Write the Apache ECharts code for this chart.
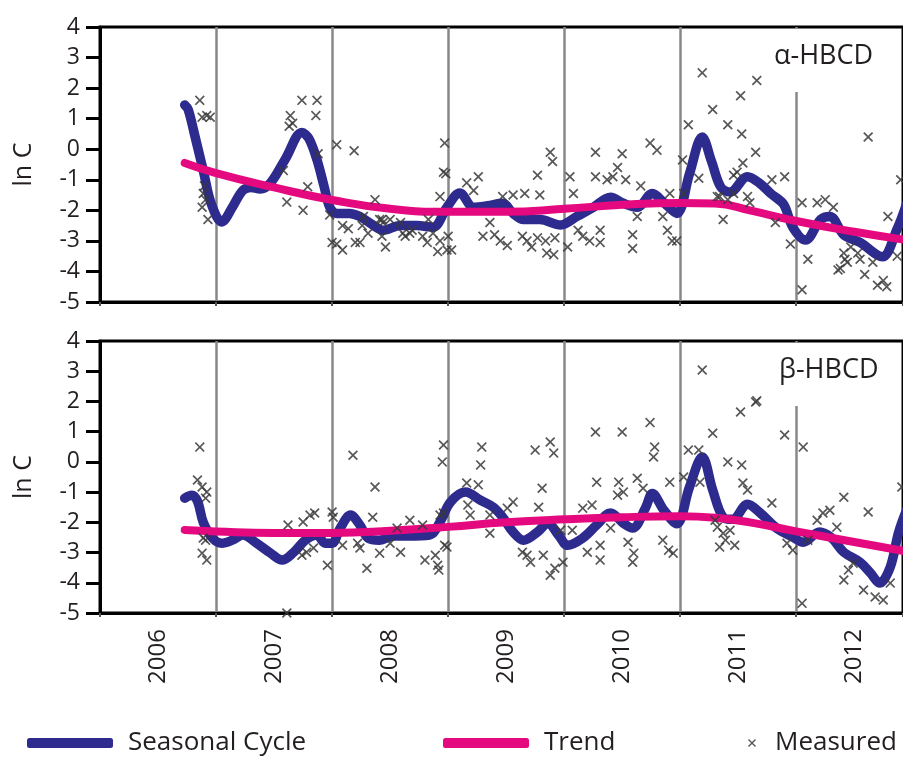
<!DOCTYPE html>
<html>
<head>
<meta charset="utf-8">
<script src="https://cdn.jsdelivr.net/npm/echarts@6/dist/echarts.min.js"></script>
<style>
html,body{margin:0;padding:0;background:#fff;}
#chart{width:903px;height:758px;}
</style>
</head>
<body>
<div id="chart"></div>
<script>
// ---------- DATA ----------
const yearLabels = ['2006','2007','2008','2009','2010','2011','2012'];
const panelNames = ['α-HBCD', 'β-HBCD'];

const alphaSeasonal = [
[2006.73,1.45],[2006.76,1.3],[2006.82,0.4],[2006.89,-0.7],[2006.96,-1.8],[2007.05,-2.38],[2007.14,-1.9],
[2007.23,-1.35],[2007.30,-1.25],[2007.38,-1.3],[2007.47,-1.1],[2007.6,-0.3],[2007.74,0.55],[2007.8,0.35],
[2007.87,-0.35],[2007.93,-1.2],[2007.98,-1.9],[2008.04,-2.1],[2008.15,-2.1],[2008.24,-2.2],[2008.34,-2.45],
[2008.44,-2.65],[2008.59,-2.5],[2008.73,-2.5],[2008.87,-2.55],[2008.99,-1.9],[2009.1,-1.43],[2009.22,-1.9],
[2009.34,-1.85],[2009.47,-1.77],[2009.56,-2.1],[2009.65,-2.3],[2009.79,-2.3],[2009.97,-2.48],[2010.11,-2.2],
[2010.25,-1.9],[2010.4,-1.57],[2010.51,-1.77],[2010.63,-1.9],[2010.76,-1.45],[2010.86,-1.75],[2010.97,-2.1],
[2011.08,-0.8],[2011.19,0.4],[2011.27,-0.4],[2011.35,-1.24],[2011.43,-1.4],[2011.58,-0.9],[2011.68,-1.1],
[2011.78,-1.45],[2011.89,-1.8],[2011.97,-2.55],[2012.08,-2.97],[2012.21,-2.3],[2012.29,-2.2],[2012.41,-2.8],
[2012.55,-3.05],[2012.74,-3.52],[2012.87,-2.6],[2012.95,-1.8]
];
const alphaTrend = [
[2006.73,-0.45],[2007.0,-0.78],[2007.5,-1.25],[2008.0,-1.66],[2008.5,-1.95],[2009.0,-2.05],[2009.5,-2.05],
[2010.0,-1.95],[2010.5,-1.82],[2011.0,-1.76],[2011.3,-1.78],[2011.6,-2.0],[2012.0,-2.35],[2012.5,-2.7],[2013.0,-3.0]
];
const alphaMeasured = [
[2006.86,1.6],[2006.92,1.1],[2006.88,1.05],[2006.95,1.05],[2006.89,-1.45],[2006.91,-1.65],[2006.88,-1.9],[2006.93,-2.3],[2006.90,-1.2],
[2007.64,1.1],[2007.66,0.85],[2007.63,0.75],[2007.74,1.6],[2007.87,1.6],[2007.86,1.1],[2007.61,-1.73],[2007.75,-2.0],[2007.79,-1.23],
[2007.58,-0.7],[2007.88,-0.15],[2008.04,0.15],[2008.19,-0.05],[2008.0,-3.05],[2008.04,-3.1],[2008.09,-3.3],[2008.09,-2.5],[2008.14,-2.6],
[2008.2,-3.05],[2008.24,-3.05],[2008.26,-2.5],[2008.31,-2.75],[2008.27,-2.2],[2008.41,-2.3],[2008.44,-2.4],[2008.43,-2.85],[2008.46,-3.2],
[2008.37,-1.65],[2008.5,-2.3],[2007.98,-2.15],[2008.59,-2.4],[2008.63,-2.85],[2008.67,-2.75],[2008.78,-2.85],[2008.82,-3.05],[2008.87,-2.75],
[2008.91,-3.35],[2008.93,-3.0],[2008.97,0.2],[2008.96,-0.75],[2008.98,-0.8],[2008.93,-1.55],[2009.0,-2.85],[2009.03,-3.3],[2008.99,-3.3],
[2009.16,-1.1],[2009.26,-0.9],[2009.22,-1.35],[2009.3,-2.85],[2009.36,-2.4],[2009.47,-1.55],[2009.56,-1.5],[2009.66,-1.45],[2009.77,-0.85],
[2009.79,-1.5],[2009.64,-2.85],[2009.68,-3.0],[2009.72,-3.2],[2009.77,-2.9],[2009.84,-3.0],[2009.85,-3.4],[2009.91,-3.45],[2009.92,-2.9],
[2009.88,-0.1],[2009.9,-0.4],[2010.05,-0.9],[2010.08,-1.45],[2010.03,-3.2],[2010.12,-2.65],[2010.16,-2.85],[2010.22,-3.0],[2010.27,-0.1],
[2010.27,-0.9],[2010.31,-2.65],[2010.31,-3.05],[2010.37,-1.0],[2010.42,-0.9],[2010.46,-0.6],[2010.5,-0.15],[2010.53,-1.0],[2010.59,-2.8],
[2010.59,-3.25],[2010.63,-2.2],[2010.66,-1.2],[2010.74,0.2],[2010.8,-0.03],[2011.07,0.8],[2011.02,-0.35],[2011.19,2.5],[2011.28,1.3],
[2011.52,1.75],[2011.66,2.25],[2011.41,0.8],[2011.53,0.5],[2011.65,-0.1],[2011.54,-0.45],[2011.49,-0.75],[2011.37,-2.3],[2011.32,-1.55],
[2011.16,-0.95],[2011.79,-1.0],[2011.9,-0.9],[2011.82,-2.4],[2011.95,-3.1],[2012.05,-1.75],[2012.1,-3.6],[2012.05,-4.6],[2012.18,-1.75],
[2012.25,-1.65],[2012.32,-1.9],[2012.36,-3.95],[2012.42,-3.6],[2012.47,-3.2],[2012.53,-3.4],[2012.59,-4.1],[2012.62,0.4],[2012.66,-3.7],
[2012.7,-4.45],[2012.75,-4.3],[2012.78,-4.5],[2012.79,-2.2],[2012.87,-3.5],[2012.9,-1.0],[2010.89,-2.65],[2010.93,-3.0],[2010.97,-3.0],
[2010.85,-2.2],[2010.91,-1.45],[2011.03,-1.45],[2011.34,-1.55],[2011.41,-1.65],[2011.46,-1.45],[2011.58,-1.55],[2011.6,-1.75],[2011.46,-0.85],
[2012.41,-3.4],[2012.55,-3.6],[2012.44,-3.7],[2012.38,-3.9],[2008.43,-2.3],[2008.61,-2.75],[2008.69,-2.65],[2008.83,-2.3],
[2009.45,-3.0],[2009.51,-3.15],[2009.4,-2.8]
];

const betaSeasonal = [
[2006.73,-1.2],[2006.79,-1.1],[2006.84,-1.3],[2006.89,-2.0],[2006.97,-2.52],[2007.05,-2.69],[2007.14,-2.59],[2007.23,-2.42],
[2007.35,-2.69],[2007.47,-3.02],[2007.57,-3.25],[2007.67,-2.99],[2007.77,-2.59],[2007.87,-2.42],[2007.94,-2.69],[2008.0,-2.69],
[2008.07,-2.19],[2008.16,-1.76],[2008.24,-2.09],[2008.31,-2.52],[2008.41,-2.59],[2008.53,-2.45],[2008.66,-2.45],[2008.84,-2.42],
[2008.93,-1.99],[2009.02,-1.33],[2009.15,-1.0],[2009.28,-1.27],[2009.39,-1.5],[2009.47,-1.83],[2009.56,-2.32],[2009.65,-2.59],
[2009.77,-2.32],[2009.86,-2.03],[2009.95,-2.42],[2010.03,-2.76],[2010.16,-2.52],[2010.28,-2.09],[2010.40,-1.69],[2010.51,-2.03],
[2010.59,-2.19],[2010.70,-1.53],[2010.76,-1.05],[2010.86,-1.6],[2010.97,-2.05],[2011.08,-0.83],[2011.19,0.16],[2011.28,-0.93],
[2011.37,-1.83],[2011.45,-1.9],[2011.58,-1.4],[2011.69,-1.69],[2011.83,-2.19],[2011.97,-2.49],[2012.06,-2.66],[2012.2,-2.32],
[2012.3,-2.5],[2012.41,-2.99],[2012.55,-3.32],[2012.64,-3.68],[2012.72,-4.01],[2012.81,-3.48],[2012.88,-2.36],[2012.95,-1.6]
];
const betaTrend = [
[2006.73,-2.25],[2007.0,-2.3],[2007.5,-2.35],[2008.0,-2.35],[2008.5,-2.28],[2009.0,-2.15],[2009.5,-2.0],[2010.0,-1.9],
[2010.5,-1.83],[2011.0,-1.8],[2011.3,-1.85],[2011.6,-2.0],[2012.0,-2.3],[2012.5,-2.65],[2013.0,-3.0]
];
const betaMeasured = [
[2006.86,0.49],[2006.84,-0.6],[2006.88,-0.83],[2006.92,-1.0],[2006.91,-1.2],[2006.89,-2.52],[2006.88,-3.02],[2006.92,-3.25],[2006.91,-2.59],
[2007.62,-2.09],[2007.75,-1.99],[2007.81,-1.76],[2007.85,-1.69],[2007.84,-2.85],[2007.78,-2.99],[2007.74,-3.09],[2007.61,-5.0],
[2008.0,-1.66],[2008.01,-1.83],[2007.96,-3.42],[2008.09,-2.76],[2008.18,0.22],[2008.22,-2.69],[2008.24,-2.85],[2008.3,-3.52],
[2008.35,-1.83],[2008.37,-0.83],[2008.41,-3.02],[2008.5,-2.69],[2008.56,-2.19],[2008.59,-2.99],[2008.67,-1.93],[2008.78,-2.09],
[2008.8,-3.25],[2008.89,-3.09],[2008.91,-3.42],[2008.92,-3.58],[2008.96,0.56],[2008.95,0.0],[2008.96,-1.69],[2008.99,-2.82],
[2008.93,-1.76],[2008.97,-2.76],[2009.16,-0.7],[2009.17,-1.43],[2009.19,-1.76],[2009.26,-0.76],[2009.28,-0.1],[2009.29,0.49],
[2009.36,-2.36],[2009.36,-1.76],[2009.51,-1.53],[2009.56,-1.33],[2009.64,-2.99],[2009.68,-3.09],[2009.71,-3.32],[2009.75,0.39],
[2009.78,-1.5],[2009.81,-0.87],[2009.82,-3.09],[2009.88,0.66],[2009.91,0.29],[2009.88,-3.75],[2009.92,-3.52],[2009.99,-3.32],
[2010.07,-2.26],[2010.16,-1.53],[2010.2,-2.99],[2010.24,-1.43],[2010.27,0.99],[2010.28,-0.67],[2010.31,-2.76],[2010.31,-3.25],
[2010.4,-2.19],[2010.46,-1.1],[2010.47,-0.67],[2010.5,0.99],[2010.51,-1.0],[2010.55,-2.66],[2010.59,-3.32],[2010.6,-3.02],
[2010.63,-0.54],[2010.68,-0.87],[2010.74,1.3],[2010.78,0.49],[2010.77,0.16],[2010.85,-2.59],[2010.9,-2.92],[2010.94,-3.02],
[2010.91,-0.67],[2011.03,-0.5],[2011.07,0.39],[2011.19,3.04],[2011.16,0.39],[2011.17,-0.67],[2011.28,0.95],[2011.41,0.0],
[2011.52,1.65],[2011.53,-0.1],[2011.65,1.98],[2011.66,2.02],[2011.32,-2.16],[2011.37,-2.36],[2011.34,-2.82],[2011.54,-0.7],
[2011.58,-0.93],[2011.79,-1.36],[2011.9,0.89],[2011.92,-2.69],[2011.97,-2.92],[2012.05,-4.68],[2012.06,0.49],[2012.1,-2.59],
[2012.18,-1.93],[2012.23,-1.69],[2012.29,-1.6],[2012.35,-2.16],[2012.41,-1.17],[2012.41,-3.91],[2012.45,-3.58],[2012.49,-3.35],
[2012.58,-4.24],[2012.62,-1.66],[2012.68,-4.47],[2012.75,-4.57],[2012.81,-4.01],[2012.91,-0.83],[2011.39,-2.59],[2011.43,-2.26],
[2011.47,-2.76],[2011.3,-1.93],[2009.97,-2.26]
];

// ---------- STYLE ----------
const FONT = '"Open Sans", "Liberation Sans", Arial, sans-serif';
const NAVY = '#2e2b8e';
const MAGENTA = '#e5097f';
const MARK = '#3a3a3a';
const TEXT = '#231f20';
const XPATH = 'path://M0,1.2L1.2,0L5,3.8L8.8,0L10,1.2L6.2,5L10,8.8L8.8,10L5,6.2L1.2,10L0,8.8L3.8,5Z';
const X_MIN = 2006, X_MAX = 2012.92;

const grids = [
  {left: 100, top: 27, right: 0, height: 275},
  {left: 100, top: 341, right: 0, height: 272}
];

function xAxisFor(i, showLabels) {
  return {
    type: 'value', gridIndex: i, min: X_MIN, max: X_MAX, interval: 1,
    axisLine: {show: true, onZero: false, lineStyle: {color: '#000', width: 3}},
    axisTick: {show: true, length: 4, lineStyle: {color: '#555', width: 2}},
    splitLine: {show: true, showMinLine: false, showMaxLine: false, lineStyle: {color: '#888', width: 2.5}},
    axisLabel: {
      show: showLabels, rotate: 90, margin: 16, fontSize: 24, color: TEXT, fontFamily: FONT,
      customValues: yearLabels.map(y => Number(y) + 0.5),
      formatter: v => String(Math.floor(v))
    }
  };
}
function yAxisFor(i) {
  return {
    type: 'value', gridIndex: i, min: -5, max: 4, interval: 1,
    name: 'ln C', nameLocation: 'middle', nameGap: 64, nameRotate: 90,
    nameTextStyle: {fontSize: 25, color: TEXT, fontFamily: FONT},
    axisLine: {show: true, lineStyle: {color: '#000', width: 3}},
    axisTick: {show: true, length: 14, lineStyle: {color: '#000', width: 3}},
    splitLine: {show: false},
    axisLabel: {margin: 20, fontSize: 23, color: TEXT, fontFamily: FONT}
  };
}
function panelSeries(i, seasonal, trend, measured) {
  return [
    {name: 'Seasonal Cycle', type: 'line', xAxisIndex: i, yAxisIndex: i, data: seasonal,
     smooth: 0.35, showSymbol: false, z: 2,
     lineStyle: {color: NAVY, width: 9.5, cap: 'round', join: 'round'}, itemStyle: {color: NAVY}},
    {name: 'Trend', type: 'line', xAxisIndex: i, yAxisIndex: i, data: trend,
     smooth: 0.5, showSymbol: false, z: 3,
     lineStyle: {color: MAGENTA, width: 8, cap: 'round', join: 'round'}, itemStyle: {color: MAGENTA}},
    {name: 'Measured', type: 'scatter', xAxisIndex: i, yAxisIndex: i, data: measured,
     symbol: XPATH, symbolSize: 10, z: 4, itemStyle: {color: MARK, opacity: 0.85}}
  ];
}

const titleStyle = {fontSize: 27, fontWeight: 'normal', color: TEXT, fontFamily: FONT};
const legendText = {fontSize: 26, color: TEXT, fontFamily: FONT, padding: [0, 0, 0, 10]};

const option = {
  backgroundColor: '#fff',
  animation: false,
  title: [
    {text: panelNames[0], left: 768, top: 29, padding: [14, 12, 22, 6], backgroundColor: '#fff', textStyle: titleStyle, z: 10},
    {text: panelNames[1], left: 773, top: 343, padding: [14, 12, 22, 6], backgroundColor: '#fff', textStyle: titleStyle, z: 10}
  ],
  legend: [
    {left: 22, top: 725, itemWidth: 86, itemHeight: 10, selectedMode: false, textStyle: legendText,
     data: [{name: 'Seasonal Cycle', icon: 'roundRect', itemStyle: {color: NAVY}}]},
    {left: 438, top: 725, itemWidth: 86, itemHeight: 10, selectedMode: false, textStyle: legendText,
     data: [{name: 'Trend', icon: 'roundRect', itemStyle: {color: MAGENTA}}]},
    {left: 743, top: 725, itemWidth: 8, itemHeight: 8, selectedMode: false,
     textStyle: Object.assign({}, legendText, {padding: [0, 0, 0, 14]}),
     data: [{name: 'Measured', icon: XPATH, itemStyle: {color: MARK}}]}
  ],
  grid: grids.map(g => Object.assign({show: true, borderColor: '#000', borderWidth: 3, backgroundColor: 'transparent'}, g)),
  xAxis: [xAxisFor(0, false), xAxisFor(1, true)],
  yAxis: [yAxisFor(0), yAxisFor(1)],
  series: [].concat(
    panelSeries(0, alphaSeasonal, alphaTrend, alphaMeasured),
    panelSeries(1, betaSeasonal, betaTrend, betaMeasured)
  )
};

const chart = echarts.init(document.getElementById('chart'), null, {renderer: 'canvas'});
chart.setOption(option);
</script>
</body>
</html>
